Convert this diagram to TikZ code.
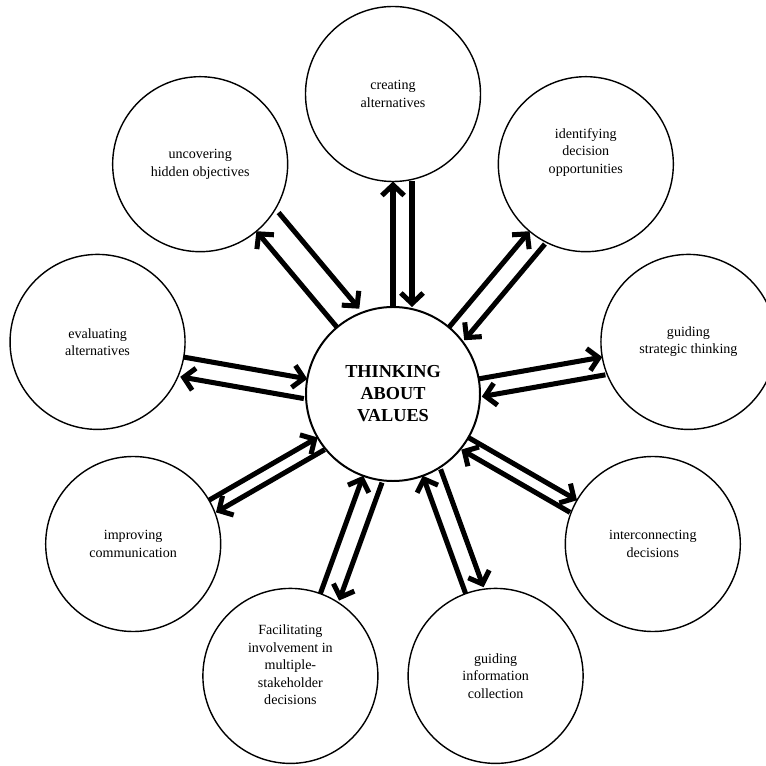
\documentclass[tikz,border=0pt]{standalone}
\usepackage{fontspec}
\setmainfont{Liberation Serif}
\usetikzlibrary{arrows.meta,calc}

\tikzset{
    hub/.style={draw, circle, line width=1.7pt, minimum size=5.22cm, inner sep=0pt,
        align=center, font=\bfseries\fontsize{15.6}{18.8}\selectfont},
    bubble/.style={draw, circle, line width=1.2pt, minimum size=5.25cm, inner sep=0pt},
    bubtext/.style={align=center, font=\fontsize{12}{14.85}\selectfont},
    link/.style={line width=4.3pt, -{Straight Barb[length=9pt,width=19pt]}}
}

% name, angle, back angle, outward offset, inward offset, text lift, text
\newcommand{\bubblepair}[7]{%
    \node[bubble] (#1) at (#2:300) {};
    \node[bubtext] (#1Txt) at ($(#1)+(0,#6)$) {#7};
    % out to the bubble, then back to the hub
    \draw[link] ($(cHub)+(#2:87)+(#2+90:#4)$) -- ($(#1)+(#3:87.5)+(#2+90:#4)$);
    \draw[link] ($(#1)+(#3:87.5)+(#2+90:#5)$) -- ($(cHub)+(#2:87)+(#2+90:#5)$);
}

\begin{document}
\begin{tikzpicture}[x=0.03cm,y=0.03cm]

\useasboundingbox (-393,-371) rectangle (373,394);

\node[hub] (cHub) at (0,0) {THINKING\\ABOUT\\VALUES};

\bubblepair{cCre}{90}{270}{0}{-19}{0}{creating\\alternatives}
\bubblepair{cIde}{50}{230}{0}{-20}{12}{identifying\\decision\\opportunities}
\bubblepair{cStr}{10}{190}{0}{-18}{0}{guiding\\strategic thinking}
\bubblepair{cInt}{330}{150}{0}{-14}{0}{interconnecting\\decisions}
\bubblepair{cInf}{290}{110}{19}{0}{0}{guiding\\information\\collection}
\bubblepair{cFac}{250}{70}{20}{0}{11}{Facilitating\\involvement in\\multiple-\\stakeholder\\decisions}
\bubblepair{cImp}{210}{30}{14}{0}{0}{improving\\communication}
\bubblepair{cEva}{170}{350}{20}{0}{0}{evaluating\\alternatives}
\bubblepair{cUnc}{130}{310}{0}{-29}{0}{uncovering\\hidden objectives}

\end{tikzpicture}
\end{document}
